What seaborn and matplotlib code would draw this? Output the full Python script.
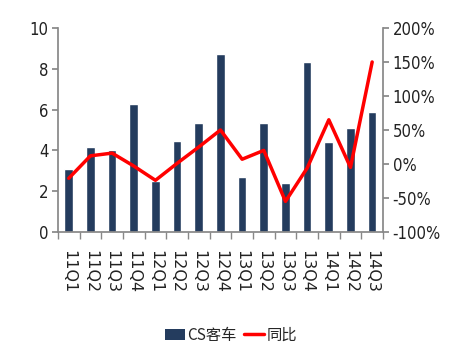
import matplotlib
matplotlib.use("Agg")
import matplotlib.pyplot as plt
import seaborn as sns
import numpy as np
import pandas as pd
from matplotlib.ticker import FuncFormatter, MultipleLocator, FixedLocator
from matplotlib.patches import Patch
from matplotlib.lines import Line2D
from matplotlib import font_manager

categories = ["11Q1", "11Q2", "11Q3", "11Q4", "12Q1", "12Q2", "12Q3", "12Q4",
              "13Q1", "13Q2", "13Q3", "13Q4", "14Q1", "14Q2", "14Q3"]
cs_sales = [3.1, 4.15, 4.0, 6.25, 2.5, 4.45, 5.35, 8.7, 2.7, 5.35, 2.4, 8.35, 4.4, 5.1, 5.9]
yoy_pct = [-21, 12, 16, -3, -24, 1, 25, 50, 7, 20, -55, -6, 65, -5, 150]

sns.set_theme(style="white")
plt.rcParams['font.family'] = ['DejaVu Sans', 'Noto Sans CJK SC']

cond = [f for f in font_manager.fontManager.ttflist
        if 'Narrow' in f.name or ('DejaVu Sans' == f.name and f.stretch in ('condensed', 'semi-condensed', 600, 500))]
tick_family = cond[0].name if cond else 'DejaVu Sans'

fig = plt.figure(figsize=(4.49, 3.54), dpi=100)
ax = fig.add_axes([0.129, 0.3446, 0.724, 0.5764])

df = pd.DataFrame({"cat": categories, "v": cs_sales})
sns.barplot(data=df, x="cat", y="v", color="#243C5E", saturation=1, width=0.4, ax=ax)
ax.set_xlim(-0.5, len(categories) - 0.5)
ax.set_ylim(0, 10)
ax.yaxis.set_major_locator(MultipleLocator(2))
ax.set_xlabel("")
ax.set_ylabel("")

ax2 = ax.twinx()
sns.lineplot(x=np.arange(len(categories)), y=yoy_pct, color="#FF0000", linewidth=2.5, ax=ax2)
ax2.set_ylim(-100, 200)
ax2.yaxis.set_major_locator(MultipleLocator(50))
ax2.yaxis.set_major_formatter(FuncFormatter(lambda v, p: f"{int(v)}%"))
ax2.set_xlim(-0.5, len(categories) - 0.5)

for a in (ax, ax2):
    for s in a.spines.values():
        s.set_visible(False)

gray = "#888888"
ax.spines['left'].set_visible(True)
ax.spines['left'].set_color(gray)
ax.spines['bottom'].set_visible(True)
ax.spines['bottom'].set_color(gray)
ax2.spines['right'].set_visible(True)
ax2.spines['right'].set_color(gray)

ax.tick_params(axis='y', left=True, length=4, color=gray, labelsize=12, pad=3, labelcolor="#222222")
ax2.tick_params(axis='y', right=True, length=4, color=gray, labelsize=12, pad=3, labelcolor="#222222")
for lab in ax.get_yticklabels() + ax2.get_yticklabels():
    lab.set_family(tick_family)
    lab.set_stretch('condensed')

ax.set_xticks(np.arange(len(categories)))
ax.set_xticklabels(categories, rotation=-90, fontsize=11.5, color="#222222")
ax.tick_params(axis='x', bottom=False, pad=7)
ax.xaxis.set_minor_locator(FixedLocator(np.arange(-0.5, len(categories), 1.0)))
ax.tick_params(axis='x', which='minor', bottom=True, length=5, color=gray)

handles = [Patch(facecolor="#243C5E", edgecolor="none"),
           Line2D([0], [0], color="#FF0000", linewidth=2.5)]
fig.legend(handles, ["CS客车", "同比"], loc="center", bbox_to_anchor=(0.515, 0.053),
           ncol=2, frameon=False, handlelength=1.3, handletextpad=0.15,
           columnspacing=0.5, prop={'family': ['Noto Sans CJK SC', 'DejaVu Sans'], 'size': 11})

fig.savefig("out.png", dpi=100)
